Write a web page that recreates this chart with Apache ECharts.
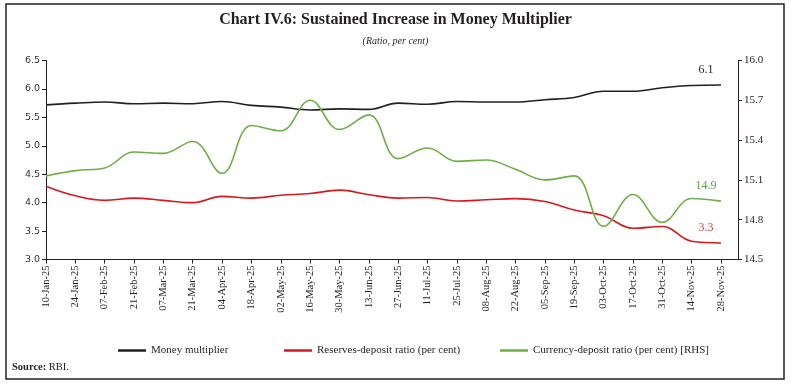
<!DOCTYPE html>
<html>
<head>
<meta charset="utf-8">
<script src="https://cdn.jsdelivr.net/npm/echarts@6/dist/echarts.min.js"></script>
<style>
html,body{margin:0;padding:0;background:#fff;}
#c{width:791px;height:390px;}
</style>
</head>
<body>
<div id="c"></div>
<script>
const dates = ['10-Jan-25','24-Jan-25','07-Feb-25','21-Feb-25','07-Mar-25','21-Mar-25','04-Apr-25','18-Apr-25','02-May-25','16-May-25','30-May-25','13-Jun-25','27-Jun-25','11-Jul-25','25-Jul-25','08-Aug-25','22-Aug-25','05-Sep-25','19-Sep-25','03-Oct-25','17-Oct-25','31-Oct-25','14-Nov-25','28-Nov-25'];
const moneyMultiplier = [5.72,5.75,5.77,5.74,5.75,5.74,5.78,5.71,5.68,5.63,5.65,5.64,5.75,5.73,5.78,5.77,5.77,5.81,5.85,5.96,5.96,6.02,6.06,6.07];
const reservesDeposit = [4.29,4.12,4.04,4.08,4.04,4.00,4.11,4.08,4.13,4.16,4.22,4.14,4.08,4.09,4.03,4.05,4.07,4.02,3.87,3.77,3.55,3.58,3.32,3.29];
const currencyDeposit = [15.13,15.17,15.19,15.31,15.30,15.39,15.15,15.51,15.47,15.70,15.48,15.59,15.26,15.34,15.24,15.25,15.18,15.10,15.13,14.75,14.99,14.78,14.96,14.94];
const leftTicks = {min:3.0, max:6.5, interval:0.5};
const rightTicks = {min:14.5, max:16.0, interval:0.3};
const endLabels = ['6.1','3.3','14.9'];

const serif = 'Liberation Serif';
const cBlack = '#231f20', cRed = '#d7191f', cGreen = '#70ad47';

function withEndLabel(arr, txt, color){
  return arr.map((v,i)=>{
    if (i === arr.length-1) {
      return {value:[i,v], label:{show:true, position:'top', distance:5, offset:[-15,-4], formatter:txt, color:color, fontFamily:serif, fontSize:12}};
    }
    return [i,v];
  });
}

const chart = echarts.init(document.getElementById('c'), null, {renderer:'canvas'});
const common = {type:'line', smooth:0.4, showSymbol:true, symbol:'circle', symbolSize:0};
chart.setOption({
  animation:false,
  backgroundColor:'#fff',
  title:[
    {text:'Chart IV.6: Sustained Increase in Money Multiplier', left:'center', top:7,
     textStyle:{fontFamily:serif, fontSize:16, fontWeight:'bold', color:'#231f20'}},
    {text:'(Ratio, per cent)', left:'center', top:31,
     textStyle:{fontFamily:serif, fontSize:10, fontStyle:'italic', fontWeight:'normal', color:'#231f20'}}
  ],
  graphic:[
    {type:'rect', shape:{x:6, y:4, width:778, height:375}, style:{fill:'none', stroke:'#231f20', lineWidth:1.5}, silent:true},
    {type:'text', left:12, top:362, style:{text:'{b|Source:} RBI.', rich:{b:{fontWeight:'bold', fontFamily:serif, fontSize:10.5, fill:'#231f20'}}, fontFamily:serif, fontSize:10.5, fill:'#231f20'}}
  ],
  legend:[
    {data:['Money multiplier'], left:113, top:340, icon:'rect', itemWidth:28, itemHeight:2.5, textStyle:{fontFamily:serif, fontSize:11, color:'#231f20'}},
    {data:['Reserves-deposit ratio (per cent)'], left:279, top:340, icon:'rect', itemWidth:28, itemHeight:2.5, textStyle:{fontFamily:serif, fontSize:11, color:'#231f20'}},
    {data:['Currency-deposit ratio (per cent) [RHS]'], left:495, top:340, icon:'rect', itemWidth:28, itemHeight:2.5, textStyle:{fontFamily:serif, fontSize:11, color:'#231f20'}}
  ],
  grid:{left:46, right:53, top:60.5, bottom:130.5, containLabel:false},
  xAxis:{
    type:'value', min:0, max:23.58, interval:1,
    splitLine:{show:false},
    axisLine:{lineStyle:{color:'#231f20', width:1}},
    axisTick:{show:true, length:4, lineStyle:{color:'#231f20'}},
    axisLabel:{rotate:90, fontFamily:serif, fontSize:10.5, color:'#231f20', margin:6,
      showMaxLabel:false,
      formatter:function(v){ return Number.isInteger(v) && dates[v] ? dates[v] : ''; }}
  },
  yAxis:[
    {type:'value', position:'left', min:leftTicks.min, max:leftTicks.max, interval:leftTicks.interval,
     splitLine:{show:false},
     axisLine:{show:true, lineStyle:{color:'#231f20'}},
     axisTick:{show:true, length:4, lineStyle:{color:'#231f20'}},
     axisLabel:{fontFamily:'DejaVu Sans', fontSize:9.5, color:'#333', margin:6, formatter:v=>v.toFixed(1)}},
    {type:'value', position:'right', min:rightTicks.min, max:rightTicks.max, interval:rightTicks.interval,
     splitLine:{show:false},
     axisLine:{show:true, lineStyle:{color:'#231f20'}},
     axisTick:{show:true, length:4, lineStyle:{color:'#231f20'}},
     axisLabel:{fontFamily:serif, fontSize:11, color:'#231f20', margin:6, formatter:v=>v.toFixed(1)}}
  ],
  series:[
    Object.assign({}, common, {name:'Money multiplier', yAxisIndex:0,
     lineStyle:{color:cBlack, width:1.6}, itemStyle:{color:cBlack},
     data:withEndLabel(moneyMultiplier, endLabels[0], '#231f20')}),
    Object.assign({}, common, {name:'Reserves-deposit ratio (per cent)', yAxisIndex:0,
     lineStyle:{color:cRed, width:1.6}, itemStyle:{color:cRed},
     data:withEndLabel(reservesDeposit, endLabels[1], '#e0403a')}),
    Object.assign({}, common, {name:'Currency-deposit ratio (per cent) [RHS]', yAxisIndex:1,
     lineStyle:{color:cGreen, width:1.6}, itemStyle:{color:cGreen},
     data:withEndLabel(currencyDeposit, endLabels[2], '#5aa047')})
  ]
});
</script>
</body>
</html>
